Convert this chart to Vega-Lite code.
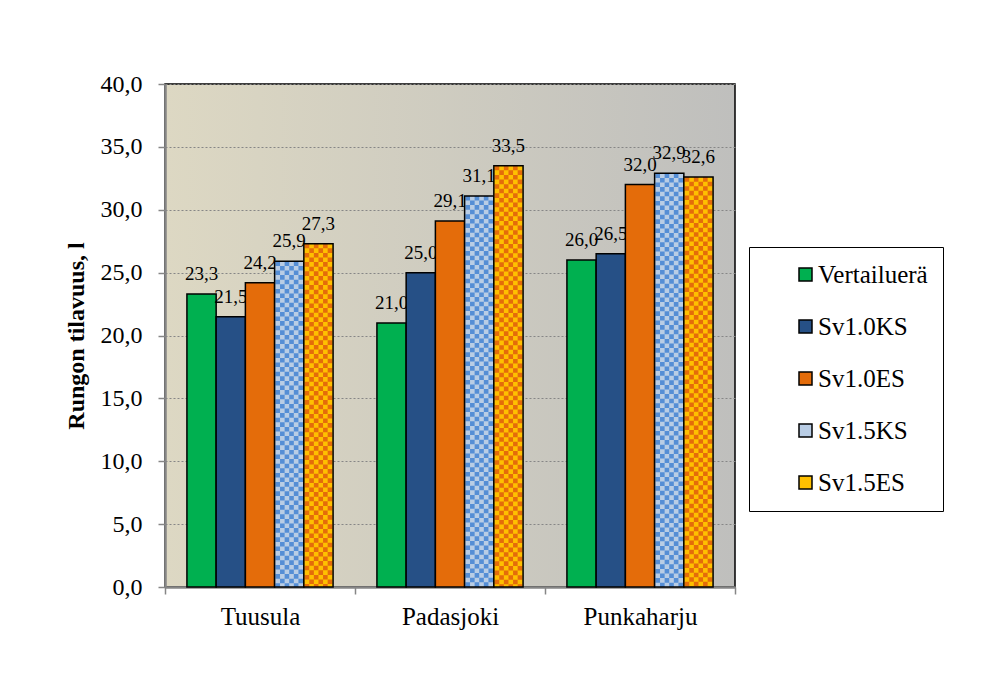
{
  "$schema": "https://vega.github.io/schema/vega-lite/v6.json",
  "width": 570,
  "height": 503,
  "autosize": {"type": "none"},
  "padding": {"left": 165, "top": 84, "right": 257, "bottom": 113},
  "background": "white",
  "data": {
    "values": [
      {"site": "Tuusula", "series": "Vertailuerä", "value": 23.3},
      {"site": "Tuusula", "series": "Sv1.0KS", "value": 21.5},
      {"site": "Tuusula", "series": "Sv1.0ES", "value": 24.2},
      {"site": "Tuusula", "series": "Sv1.5KS", "value": 25.9},
      {"site": "Tuusula", "series": "Sv1.5ES", "value": 27.3},
      {"site": "Padasjoki", "series": "Vertailuerä", "value": 21.0},
      {"site": "Padasjoki", "series": "Sv1.0KS", "value": 25.0},
      {"site": "Padasjoki", "series": "Sv1.0ES", "value": 29.1},
      {"site": "Padasjoki", "series": "Sv1.5KS", "value": 31.1},
      {"site": "Padasjoki", "series": "Sv1.5ES", "value": 33.5},
      {"site": "Punkaharju", "series": "Vertailuerä", "value": 26.0},
      {"site": "Punkaharju", "series": "Sv1.0KS", "value": 26.5},
      {"site": "Punkaharju", "series": "Sv1.0ES", "value": 32.0},
      {"site": "Punkaharju", "series": "Sv1.5KS", "value": 32.9},
      {"site": "Punkaharju", "series": "Sv1.5ES", "value": 32.6}
    ]
  },
  "layer": [
    {
      "encoding": {
        "x": {"field": "site", "type": "nominal", "sort": ["Tuusula", "Padasjoki", "Punkaharju"], "scale": {"paddingInner": 0, "paddingOuter": 0}, "axis": {"title": null}},
        "xOffset": {
          "field": "series", "type": "nominal",
          "sort": ["Vertailuerä", "Sv1.0KS", "Sv1.0ES", "Sv1.5KS", "Sv1.5ES"],
          "scale": {"domain": ["Vertailuerä", "Sv1.0KS", "Sv1.0ES", "Sv1.5KS", "Sv1.5ES"], "paddingInner": 0, "paddingOuter": 0.75}
        },
        "y": {
          "field": "value", "type": "quantitative",
          "scale": {"domain": [0, 40], "nice": false},
          "axis": {"title": "Rungon tilavuus, l", "values": [0, 5, 10, 15, 20, 25, 30, 35, 40]}
        }
      },
      "layer": [
        {
          "transform": [{"filter": {"field": "series", "equal": "Vertailuerä"}}],
          "mark": {"type": "bar", "stroke": "black", "strokeWidth": 1.5},
          "encoding": {
            "color": {
              "field": "series", "type": "nominal",
              "scale": {
                "domain": ["Vertailuerä", "Sv1.0KS", "Sv1.0ES", "Sv1.5KS", "Sv1.5ES"],
                "range": ["#00b050", "#265086", "#e46c0a", "#b9cde5", "#ffc000"]
              },
              "legend": {"title": null}
            }
          }
        },
        {
          "transform": [{"filter": {"field": "series", "equal": "Vertailuerä"}}],
          "mark": {"type": "text"},
          "encoding": {"text": {"field": "value", "type": "quantitative", "format": ".1f"}}
        },
        {
          "transform": [{"filter": {"field": "series", "equal": "Sv1.0KS"}}],
          "mark": {"type": "bar", "stroke": "black", "strokeWidth": 1.5},
          "encoding": {"color": {"field": "series", "type": "nominal", "legend": {"title": null}}}
        },
        {
          "transform": [{"filter": {"field": "series", "equal": "Sv1.0KS"}}],
          "mark": {"type": "text"},
          "encoding": {"text": {"field": "value", "type": "quantitative", "format": ".1f"}}
        },
        {
          "transform": [{"filter": {"field": "series", "equal": "Sv1.0ES"}}],
          "mark": {"type": "bar", "stroke": "black", "strokeWidth": 1.5},
          "encoding": {"color": {"field": "series", "type": "nominal", "legend": {"title": null}}}
        },
        {
          "transform": [{"filter": {"field": "series", "equal": "Sv1.0ES"}}],
          "mark": {"type": "text"},
          "encoding": {"text": {"field": "value", "type": "quantitative", "format": ".1f"}}
        },
        {
          "transform": [{"filter": {"field": "series", "equal": "Sv1.5KS"}}],
          "mark": {"type": "bar", "strokeWidth": 0},
          "encoding": {"color": {"field": "series", "type": "nominal", "legend": {"title": null}}}
        }
      ]
    },
    {
      "transform": [{"filter": {"field": "series", "equal": "Sv1.5KS"}}],
      "encoding": {
        "y": {"field": "value", "type": "quantitative", "axis": {"title": "Rungon tilavuus, l"}},
        "y2": {"datum": 0}
      },
      "layer": [
        {
          "mark": {"type": "rule", "stroke": "#558ed5", "strokeWidth": 4.6, "strokeDash": [4.6, 4.6], "strokeDashOffset": 0},
          "encoding": {"x": {"field": "site", "type": "nominal", "sort": ["Tuusula", "Padasjoki", "Punkaharju"], "bandPosition": 0.59332, "axis": {"title": null}}}
        },
        {
          "mark": {"type": "rule", "stroke": "#558ed5", "strokeWidth": 4.6, "strokeDash": [4.6, 4.6], "strokeDashOffset": 4.6},
          "encoding": {"x": {"field": "site", "type": "nominal", "sort": ["Tuusula", "Padasjoki", "Punkaharju"], "bandPosition": 0.61753, "axis": {"title": null}}}
        },
        {
          "mark": {"type": "rule", "stroke": "#558ed5", "strokeWidth": 4.6, "strokeDash": [4.6, 4.6], "strokeDashOffset": 0},
          "encoding": {"x": {"field": "site", "type": "nominal", "sort": ["Tuusula", "Padasjoki", "Punkaharju"], "bandPosition": 0.64174, "axis": {"title": null}}}
        },
        {
          "mark": {"type": "rule", "stroke": "#558ed5", "strokeWidth": 4.6, "strokeDash": [4.6, 4.6], "strokeDashOffset": 4.6},
          "encoding": {"x": {"field": "site", "type": "nominal", "sort": ["Tuusula", "Padasjoki", "Punkaharju"], "bandPosition": 0.66595, "axis": {"title": null}}}
        },
        {
          "mark": {"type": "rule", "stroke": "#558ed5", "strokeWidth": 4.6, "strokeDash": [4.6, 4.6], "strokeDashOffset": 0},
          "encoding": {"x": {"field": "site", "type": "nominal", "sort": ["Tuusula", "Padasjoki", "Punkaharju"], "bandPosition": 0.69016, "axis": {"title": null}}}
        },
        {
          "mark": {"type": "rule", "stroke": "#558ed5", "strokeWidth": 4.6, "strokeDash": [4.6, 4.6], "strokeDashOffset": 4.6},
          "encoding": {"x": {"field": "site", "type": "nominal", "sort": ["Tuusula", "Padasjoki", "Punkaharju"], "bandPosition": 0.71437, "axis": {"title": null}}}
        }
      ]
    },
    {
      "encoding": {
        "x": {"field": "site", "type": "nominal", "sort": ["Tuusula", "Padasjoki", "Punkaharju"], "axis": {"title": null}},
        "xOffset": {"field": "series", "type": "nominal", "sort": ["Vertailuerä", "Sv1.0KS", "Sv1.0ES", "Sv1.5KS", "Sv1.5ES"]},
        "y": {"field": "value", "type": "quantitative", "axis": {"title": "Rungon tilavuus, l"}}
      },
      "layer": [
        {
          "transform": [{"filter": {"field": "series", "equal": "Sv1.5KS"}}],
          "mark": {"type": "bar", "fillOpacity": 0, "stroke": "black", "strokeWidth": 1.5}
        },
        {
          "transform": [{"filter": {"field": "series", "equal": "Sv1.5KS"}}],
          "mark": {"type": "text"},
          "encoding": {"text": {"field": "value", "type": "quantitative", "format": ".1f"}}
        },
        {
          "transform": [{"filter": {"field": "series", "equal": "Sv1.5ES"}}],
          "mark": {"type": "bar", "strokeWidth": 0},
          "encoding": {"color": {"field": "series", "type": "nominal", "legend": {"title": null}}}
        }
      ]
    },
    {
      "transform": [{"filter": {"field": "series", "equal": "Sv1.5ES"}}],
      "encoding": {
        "y": {"field": "value", "type": "quantitative", "axis": {"title": "Rungon tilavuus, l"}},
        "y2": {"datum": 0}
      },
      "layer": [
        {
          "mark": {"type": "rule", "stroke": "#e46c0a", "strokeWidth": 4.6, "strokeDash": [4.6, 4.6], "strokeDashOffset": 0},
          "encoding": {"x": {"field": "site", "type": "nominal", "sort": ["Tuusula", "Padasjoki", "Punkaharju"], "bandPosition": 0.74716, "axis": {"title": null}}}
        },
        {
          "mark": {"type": "rule", "stroke": "#e46c0a", "strokeWidth": 4.6, "strokeDash": [4.6, 4.6], "strokeDashOffset": 4.6},
          "encoding": {"x": {"field": "site", "type": "nominal", "sort": ["Tuusula", "Padasjoki", "Punkaharju"], "bandPosition": 0.77137, "axis": {"title": null}}}
        },
        {
          "mark": {"type": "rule", "stroke": "#e46c0a", "strokeWidth": 4.6, "strokeDash": [4.6, 4.6], "strokeDashOffset": 0},
          "encoding": {"x": {"field": "site", "type": "nominal", "sort": ["Tuusula", "Padasjoki", "Punkaharju"], "bandPosition": 0.79558, "axis": {"title": null}}}
        },
        {
          "mark": {"type": "rule", "stroke": "#e46c0a", "strokeWidth": 4.6, "strokeDash": [4.6, 4.6], "strokeDashOffset": 4.6},
          "encoding": {"x": {"field": "site", "type": "nominal", "sort": ["Tuusula", "Padasjoki", "Punkaharju"], "bandPosition": 0.81979, "axis": {"title": null}}}
        },
        {
          "mark": {"type": "rule", "stroke": "#e46c0a", "strokeWidth": 4.6, "strokeDash": [4.6, 4.6], "strokeDashOffset": 0},
          "encoding": {"x": {"field": "site", "type": "nominal", "sort": ["Tuusula", "Padasjoki", "Punkaharju"], "bandPosition": 0.844, "axis": {"title": null}}}
        },
        {
          "mark": {"type": "rule", "stroke": "#e46c0a", "strokeWidth": 4.6, "strokeDash": [4.6, 4.6], "strokeDashOffset": 4.6},
          "encoding": {"x": {"field": "site", "type": "nominal", "sort": ["Tuusula", "Padasjoki", "Punkaharju"], "bandPosition": 0.86821, "axis": {"title": null}}}
        }
      ]
    },
    {
      "transform": [{"filter": {"field": "series", "equal": "Sv1.5ES"}}],
      "encoding": {
        "x": {"field": "site", "type": "nominal", "sort": ["Tuusula", "Padasjoki", "Punkaharju"], "axis": {"title": null}},
        "xOffset": {"field": "series", "type": "nominal", "sort": ["Vertailuerä", "Sv1.0KS", "Sv1.0ES", "Sv1.5KS", "Sv1.5ES"]},
        "y": {"field": "value", "type": "quantitative", "axis": {"title": "Rungon tilavuus, l"}}
      },
      "layer": [
        {"mark": {"type": "bar", "fillOpacity": 0, "stroke": "black", "strokeWidth": 1.5}},
        {
          "mark": {"type": "text"},
          "encoding": {"text": {"field": "value", "type": "quantitative", "format": ".1f"}}
        }
      ]
    }
  ],
  "config": {
    "locale": {
      "number": {"decimal": ",", "thousands": " ", "grouping": [3], "currency": ["", " €"]}
    },
    "view": {
      "stroke": "black",
      "strokeWidth": 1.5,
      "fill": {
        "gradient": "linear",
        "x1": 0, "y1": 0, "x2": 1, "y2": 0,
        "stops": [
          {"offset": 0, "color": "#ddd8c3"},
          {"offset": 1, "color": "#bfbfbd"}
        ]
      }
    },
    "text": {"font": "Liberation Serif", "fontSize": 19, "color": "black", "baseline": "alphabetic", "dy": -14},
    "axisX": {
      "labelAngle": 0,
      "labelFont": "Liberation Serif",
      "labelFontSize": 25,
      "labelColor": "black",
      "labelPadding": 10,
      "tickBand": "extent",
      "tickSize": 7,
      "tickColor": "#868686",
      "tickWidth": 1.5,
      "domainColor": "#868686",
      "domainWidth": 2.5,
      "grid": false,
      "zindex": 1
    },
    "axisY": {
      "titleFont": "Liberation Serif",
      "titleFontSize": 24,
      "titleFontWeight": "bold",
      "titleColor": "black",
      "titlePadding": 12,
      "labelFont": "Liberation Serif",
      "labelFontSize": 24,
      "labelColor": "black",
      "labelPadding": 16,
      "format": ".1f",
      "tickSize": 7,
      "tickColor": "#868686",
      "tickWidth": 1.5,
      "domainColor": "#868686",
      "domainWidth": 2.5,
      "grid": true,
      "gridColor": "#868686",
      "gridDash": [2, 2],
      "gridWidth": 1,
      "zindex": 1
    },
    "legend": {
      "orient": "none",
      "legendX": 584,
      "legendY": 163,
      "strokeColor": "black",
      "fillColor": "white",
      "padding": 15,
      "symbolType": "square",
      "symbolSize": 169,
      "symbolStrokeColor": "black",
      "symbolStrokeWidth": 1.5,
      "symbolOffset": 29,
      "labelOffset": 0,
      "labelFont": "Liberation Serif",
      "labelFontSize": 25,
      "labelColor": "black",
      "rowPadding": 26
    }
  }
}
